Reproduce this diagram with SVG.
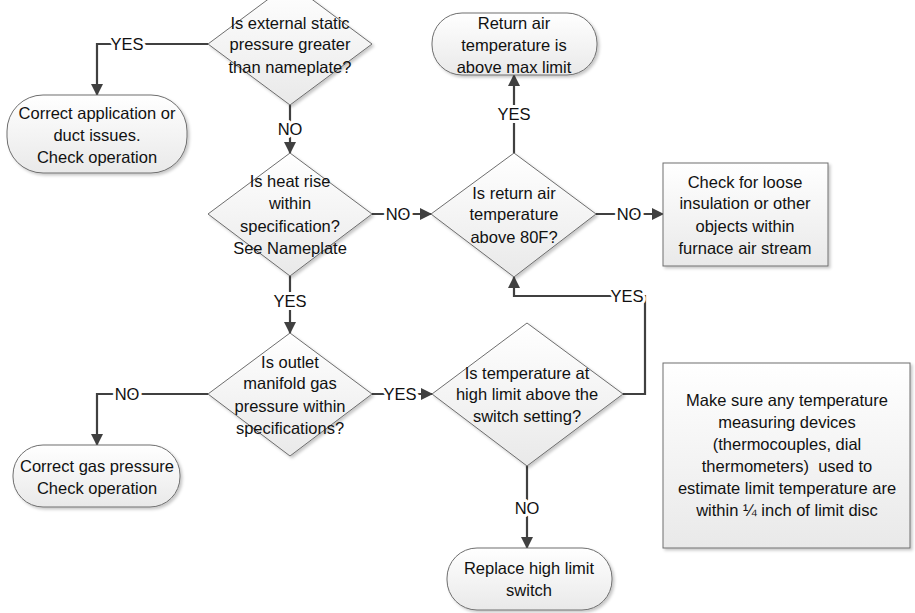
<svg xmlns="http://www.w3.org/2000/svg" width="915" height="613" viewBox="0 0 915 613">
<defs>
<linearGradient id="g" x1="0" y1="0" x2="0" y2="1">
<stop offset="0" stop-color="#ffffff"/>
<stop offset="1" stop-color="#e9e9e9"/>
</linearGradient>
<filter id="sh" x="-10%" y="-10%" width="130%" height="130%">
<feDropShadow dx="2" dy="2" stdDeviation="1.5" flood-color="#000" flood-opacity="0.22"/>
</filter>
<marker id="ah" markerWidth="12" markerHeight="12" refX="11" refY="6" orient="auto" markerUnits="userSpaceOnUse">
<path d="M0,0 L12,6 L0,12 Z" fill="#404040"/>
</marker>
<style>
.s{fill:url(#g);stroke:#6e6e6e;stroke-width:1;filter:url(#sh)}
.t{font-family:"Liberation Sans",Arial,sans-serif;font-size:16.5px;fill:#111;text-anchor:middle}
.c{fill:none;stroke:#404040;stroke-width:2.2;marker-end:url(#ah)}
.l{font-family:"Liberation Sans",Arial,sans-serif;font-size:16.5px;fill:#111;text-anchor:middle;stroke:#fff;stroke-width:6;paint-order:stroke;stroke-linejoin:round}
</style>
</defs>
<rect width="915" height="613" fill="#fff"/>
<g id="connectors">
<path class="c" d="M208,44 H97 V95"/>
<path class="c" d="M290,105 V153"/>
<path class="c" d="M372,214 H431"/>
<path class="c" d="M514,153 V75"/>
<path class="c" d="M596,214 H663"/>
<path class="c" d="M290,276 V333"/>
<path class="c" d="M208,394 H97 V445"/>
<path class="c" d="M372,394 H432"/>
<path class="c" d="M623,394 H645 V296 H514 V277"/>
<path class="c" d="M527,466 V548"/>
<text class="l" x="127" y="50">YES</text>
<text class="l" x="290" y="135">NO</text>
<text class="l" x="398" y="220">NO</text>
<text class="l" x="514" y="120">YES</text>
<text class="l" x="629" y="220">NO</text>
<text class="l" x="290" y="307">YES</text>
<text class="l" x="127" y="400">NO</text>
<text class="l" x="400" y="400">YES</text>
<text class="l" x="627" y="302">YES</text>
<text class="l" x="527" y="514">NO</text>
</g>
<g id="d1">
<polygon class="s" points="290,-17 372,44 290,105 208,44"/>
<text class="t" x="290" y="29">Is external static</text>
<text class="t" x="290" y="50">pressure greater</text>
<text class="t" x="290" y="73">than nameplate?</text>
</g>
<g id="t1">
<rect class="s" x="7" y="95" width="180" height="78" rx="36" ry="36"/>
<text class="t" x="97" y="119">Correct application or</text>
<text class="t" x="97" y="141">duct issues.</text>
<text class="t" x="97" y="163">Check operation</text>
</g>
<g id="d2">
<polygon class="s" points="290,153 372,214 290,276 208,214"/>
<text class="t" x="290" y="187">Is heat rise</text>
<text class="t" x="290" y="209">within</text>
<text class="t" x="290" y="232">specification?</text>
<text class="t" x="290" y="254">See Nameplate</text>
</g>
<g id="d3">
<polygon class="s" points="290,333 372,394 290,456 208,394"/>
<text class="t" x="290" y="368">Is outlet</text>
<text class="t" x="290" y="389">manifold gas</text>
<text class="t" x="290" y="412">pressure within</text>
<text class="t" x="290" y="434">specifications?</text>
</g>
<g id="t2">
<rect class="s" x="13" y="445" width="167" height="62" rx="30" ry="30"/>
<text class="t" x="97" y="472">Correct gas pressure</text>
<text class="t" x="97" y="494">Check operation</text>
</g>
<g id="d4">
<polygon class="s" points="527,323 623,394 527,466 432,394"/>
<text class="t" x="527" y="379">Is temperature at</text>
<text class="t" x="527" y="400">high limit above the</text>
<text class="t" x="527" y="422">switch setting?</text>
</g>
<g id="t3">
<rect class="s" x="447" y="548" width="165" height="62" rx="30" ry="30"/>
<text class="t" x="529" y="574">Replace high limit</text>
<text class="t" x="529" y="596">switch</text>
</g>
<g id="note">
<rect class="s" x="663" y="363" width="247" height="185"/>
<text class="t" x="787" y="406">Make sure any temperature</text>
<text class="t" x="787" y="428">measuring devices</text>
<text class="t" x="787" y="450">(thermocouples, dial</text>
<text class="t" x="787" y="472" xml:space="preserve">thermometers)  used to</text>
<text class="t" x="787" y="494">estimate limit temperature are</text>
<text class="t" x="787" y="516">within ¼ inch of limit disc</text>
</g>
<g id="d5">
<polygon class="s" points="514,153 596,214 514,277 431,214"/>
<text class="t" x="514" y="199">Is return air</text>
<text class="t" x="514" y="220">temperature</text>
<text class="t" x="514" y="243">above 80F?</text>
</g>
<g id="t4">
<rect class="s" x="432" y="13" width="165" height="62" rx="30" ry="30"/>
<text class="t" x="514" y="29">Return air</text>
<text class="t" x="514" y="51">temperature is</text>
<text class="t" x="514" y="73">above max limit</text>
</g>
<g id="box">
<rect class="s" x="663" y="163" width="165" height="103"/>
<text class="t" x="745" y="188">Check for loose</text>
<text class="t" x="745" y="209">insulation or other</text>
<text class="t" x="745" y="232">objects within</text>
<text class="t" x="745" y="254">furnace air stream</text>
</g>
</svg>
